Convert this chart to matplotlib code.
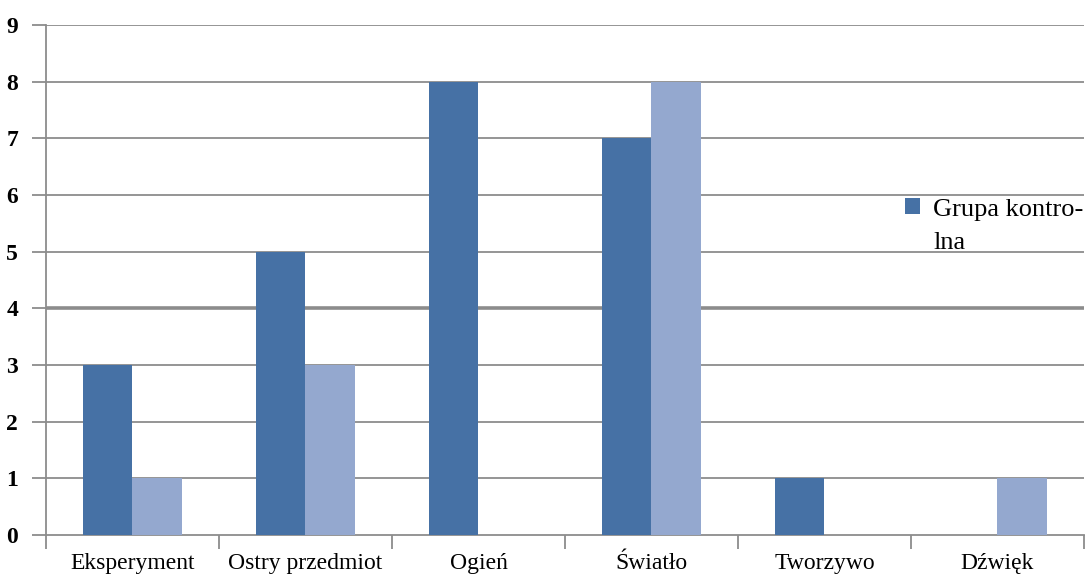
import numpy as np
import matplotlib.pyplot as plt
from matplotlib.patches import Patch

categories = ['Eksperyment', 'Ostry przedmiot', 'Ogień', 'Światło', 'Tworzywo', 'Dźwięk']
kontrolna = [3, 5, 8, 7, 1, 0]
druga = [1, 3, 0, 8, 0, 1]

plt.rcParams['font.family'] = ['Liberation Serif', 'DejaVu Serif']

fig = plt.figure(figsize=(10.89, 5.78), dpi=100)
ax = fig.add_axes([0.0422, 0.0744, 0.9532, 0.8823])

x = np.arange(len(categories))
w = 0.285
ax.bar(x - w / 2, kontrolna, w, color='#4671a5', zorder=3)
ax.bar(x + w / 2, druga, w, color='#94a8cf', zorder=3)

ax.set_xlim(-0.5, len(categories) - 0.5)
ax.set_ylim(0, 9)
ax.set_yticks(range(10))
for v in range(1, 10):
    ax.axhline(v, color='#8c8c8c', lw=2.6 if v == 4 else 1.3, zorder=1)

# category labels between boundary ticks
ax.set_xticks(x)
ax.set_xticklabels(categories, fontsize=17)
ax.tick_params(axis='x', length=0, pad=13)
ax.set_xticks(np.arange(-0.5, len(categories)), minor=True)
ax.tick_params(axis='x', which='minor', length=10, width=1.3, color='#8c8c8c', direction='out')
ax.tick_params(axis='y', length=10, width=1.3, color='#8c8c8c', labelsize=17, pad=10)
for t in ax.get_yticklabels():
    t.set_fontweight('bold')

for s in ['top', 'right']:
    ax.spines[s].set_visible(False)
for s in ['left', 'bottom']:
    ax.spines[s].set_color('#8c8c8c')
    ax.spines[s].set_linewidth(1.3)

# legend: only the control group is named, label wraps onto a second line
handle = Patch(facecolor='#4671a5', edgecolor='none')
leg = ax.legend([handle], ['Grupa kontro-'], loc='upper left',
                bbox_to_anchor=(0.828, 0.66), frameon=False, fontsize=19,
                handlelength=0.55, handleheight=0.55, handletextpad=0.5,
                borderaxespad=0, borderpad=0)
fig.canvas.draw()
lbl = leg.get_texts()[0]
bb = lbl.get_window_extent().transformed(ax.transAxes.inverted())
ax.text(bb.x0, bb.y0 - 0.022, 'lna', transform=ax.transAxes, fontsize=19,
        ha='left', va='top')

fig.savefig('out.png', dpi=100)
